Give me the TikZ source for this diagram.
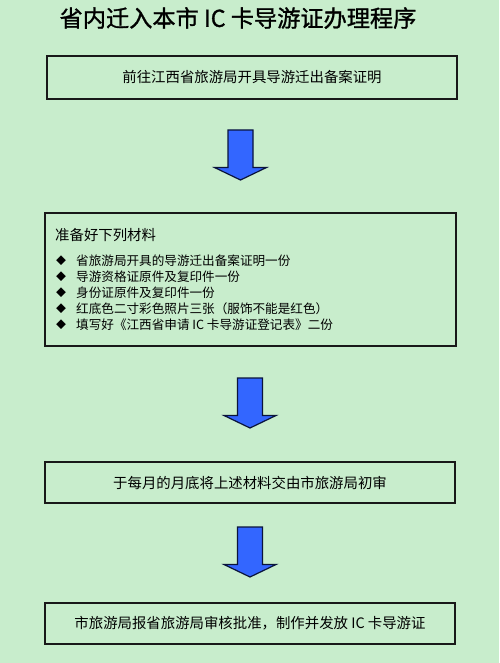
\documentclass[tikz,border=0pt]{standalone}
\usepackage{fontspec}
\setmainfont{Noto Sans CJK SC}
\newfontfamily\cjk{Noto Sans CJK SC}
\newfontfamily\cjktitle[FakeBold=1.2]{Noto Sans CJK SC}
\definecolor{bggreen}{RGB}{200,237,204}
\definecolor{arrowblue}{RGB}{51,102,255}
\definecolor{arrowline}{RGB}{10,20,60}
\definecolor{boxline}{RGB}{25,25,25}
\tikzset{
  stepbox/.style={draw=boxline, line width=1.6pt, inner sep=0pt, font=\cjk\fontsize{14.4}{16}\selectfont},
  itemtext/.style={anchor=west, inner sep=0pt, font=\cjk\fontsize{12.6}{14}\selectfont},
  bulletmark/.style={inner sep=0pt, font=\cjk\fontsize{10}{12}\selectfont},
  downarrow/.pic={\draw[fill=arrowblue, draw=arrowline, line width=1.2pt, line join=miter]
    (-12.5,0) -- (12.5,0) -- (12.5,-37.5) -- (26,-37.5) -- (0,-50) -- (-26,-37.5) -- (-12.5,-37.5) -- cycle;}
}
\begin{document}
\begin{tikzpicture}[x=1pt,y=1pt]
\fill[bggreen] (0,0) rectangle (499,-663);
\useasboundingbox (0,0) rectangle (499,-663);

\node[inner sep=0pt, font=\cjktitle\fontsize{23.2}{26}\selectfont] (title) at (238,-18) {省内迁入本市 IC 卡导游证办理程序};

\node[stepbox, minimum width=410pt, minimum height=43pt] (b1) at (252,-77.5) {前往江西省旅游局开具导游迁出备案证明};

\node[stepbox, minimum width=411pt, minimum height=133pt] (b2) at (250.5,-279.5) {};
\node[itemtext, font=\cjk\fontsize{14.4}{16}\selectfont] (h2) at (55,-235) {准备好下列材料};
\foreach \t [count=\i] in {省旅游局开具的导游迁出备案证明一份,导游资格证原件及复印件一份,身份证原件及复印件一份,红底色二寸彩色照片三张（服饰不能是红色）,填写好《江西省申请 IC 卡导游证登记表》二份}{
  \node[bulletmark] (bul\i) at (61,{-261-16*(\i-1)}) {◆};
  \node[itemtext] (it\i) at (76,{-261-16*(\i-1)}) {\t};
}

\node[stepbox, minimum width=410pt, minimum height=41pt] (b3) at (250,-482.5) {于每月的月底将上述材料交由市旅游局初审};
\node[stepbox, minimum width=410pt, minimum height=41pt] (b4) at (250,-623.5) {市旅游局报省旅游局审核批准，制作并发放 IC 卡导游证};

\coordinate (a1) at (240.5,-130);
\coordinate (a2) at (250,-378);
\coordinate (a3) at (250,-527);
\pic at (a1) {downarrow};
\pic at (a2) {downarrow};
\pic at (a3) {downarrow};
\end{tikzpicture}
\end{document}
